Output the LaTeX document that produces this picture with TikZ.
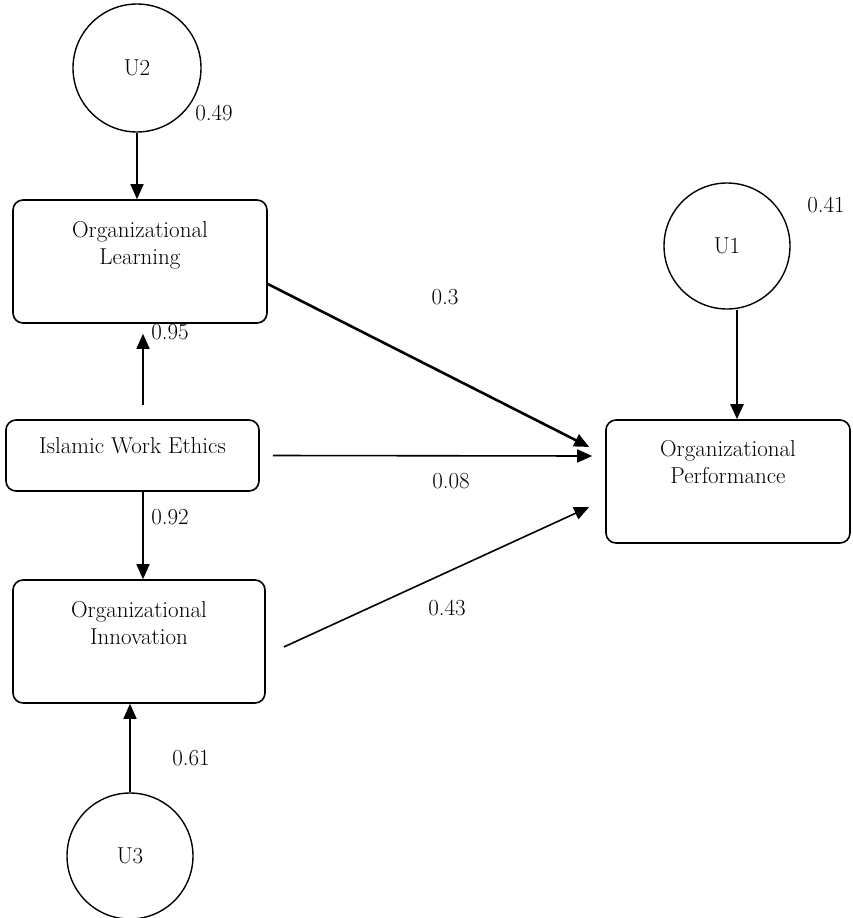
\documentclass[tikz,border=0pt]{standalone}
\usetikzlibrary{arrows.meta}
\begin{document}
\begin{tikzpicture}[x=1pt,y=-1pt,
  every node/.style={font=\fontsize{23}{27}\selectfont},
  boxnode/.style={draw,line width=1.6pt,rounded corners=10pt,inner sep=0pt},
  circnode/.style={draw,circle,line width=1.4pt,inner sep=0pt},
  inlabel/.style={align=center,anchor=north,inner sep=0pt},
  coef/.style={inner sep=0pt},
  arr/.style={line width=1.6pt,-{Triangle[length=15pt,width=13pt]}},
  thickarr/.style={line width=2.6pt,-{Triangle[length=15pt,width=13pt]}}]
\useasboundingbox (0,0) rectangle (852,918);
% boxes
\node[boxnode,minimum width=254pt,minimum height=123pt,
  label={[inlabel,yshift=-22pt]north:{Organizational\\Learning}}] (OL) at (140,261.5) {};
\node[boxnode,minimum width=253pt,minimum height=71pt,
  label={[inlabel,yshift=-18pt]north:{Islamic Work Ethics}}] (IWE) at (132.5,455.5) {};
\node[boxnode,minimum width=244pt,minimum height=123pt,
  label={[inlabel,yshift=-21pt]north:{Organizational\\Performance}}] (OP) at (728,481.5) {};
\node[boxnode,minimum width=252pt,minimum height=123pt,
  label={[inlabel,yshift=-22pt]north:{Organizational\\Innovation}}] (OI) at (139,641.5) {};
% circles
\node[circnode,minimum size=128pt] (U2) at (137,68) {U2};
\node[circnode,minimum size=126pt] (U1) at (727,246) {U1};
\node[circnode,minimum size=126pt] (U3) at (130,856) {U3};
% arrows
\draw[arr] (U2.south) -- (U2.south |- OL.north);
\draw[arr,shorten <=14pt,shorten >=10pt] ([xshift=10.5pt]IWE.north) -- ([xshift=10.5pt]IWE.north |- OL.south);
\draw[arr] ([xshift=10.5pt]IWE.south) -- ([xshift=10.5pt]IWE.south |- OI.north);
\draw[arr] (U3.north) -- (U3.north |- OI.south);
\draw[thickarr] ([xshift=10pt]U1.south) -- ([xshift=10pt]U1.south |- OP.north);
\draw[thickarr] ([yshift=-22.5pt]OL.east) -- ([xshift=-16pt,yshift=34.5pt]OP.west);
\draw[arr] ([xshift=13pt]IWE.east) -- ([xshift=-13pt,yshift=25.5pt]OP.west);
\draw[arr] ([xshift=18pt,yshift=-5.5pt]OI.east) -- ([xshift=-16pt,yshift=-25.5pt]OP.west);
% coefficients
\node[coef] (c49) at (214,113) {0.49};
\node[coef] (c41) at (826,205) {0.41};
\node[coef] (c30) at (445,297) {0.3};
\node[coef] (c95) at (170,332) {0.95};
\node[coef] (c08) at (451,481) {0.08};
\node[coef] (c92) at (170,517) {0.92};
\node[coef] (c43) at (447,608) {0.43};
\node[coef] (c61) at (191,758) {0.61};
\end{tikzpicture}
\end{document}
